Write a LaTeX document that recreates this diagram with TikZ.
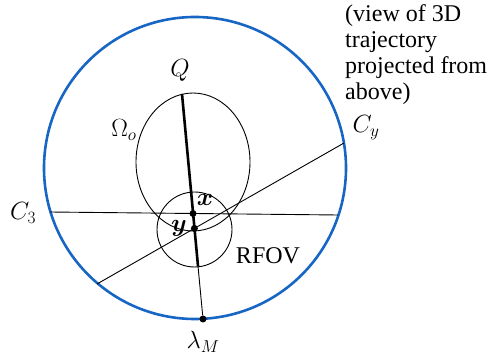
\documentclass[tikz,border=0pt]{standalone}
\usepackage{fontspec}
\usepackage{amsmath,bm}
\setmainfont{Liberation Serif}
\definecolor{ringblue}{RGB}{24,102,196}
\begin{document}
\begin{tikzpicture}[x=1pt,y=-1pt,
  thinline/.style={line width=0.9pt,black},
  thickline/.style={line width=2.6pt,black},
  ring/.style={line width=2.6pt,ringblue},
  dotmark/.style={circle,fill=black,inner sep=0pt,minimum size=7pt},
  lbl/.style={inner sep=0pt,font=\fontsize{24}{26}\selectfont}]
\useasboundingbox (0,0) rectangle (493,358);
% ring
\coordinate (O) at (195,168);
\draw[ring] (O) circle[radius=151];
% ellipse and RFOV circle
\draw[thinline] (193,162) ellipse[x radius=57, y radius=69];
\draw[thinline] (194.5,229.5) circle[radius=37.5];
% lines
\coordinate (c3a) at (50,212);
\coordinate (c3b) at (338,215);
\coordinate (cya) at (97,284);
\coordinate (cyb) at (344,143);
\coordinate (qtop) at (182,94);
\coordinate (thk) at (198,266);
\draw[thinline] (c3a) -- (c3b);
\draw[thinline] (cya) -- (cyb);
\node[dotmark] (lm) at (203,319) {};
\draw[thinline] (thk) -- (lm);
\draw[thickline] (qtop) -- (thk);
\node[dotmark] (xd) at (193,213.5) {};
\node[dotmark] (yd) at (194.4,228.4) {};
% labels
\node[lbl] (Q) at (180,70) {$Q$};
\node[lbl] (Om) at (124,130) {$\Omega_o$};
\node[lbl] (Cy) at (366,128) {$C_y$};
\node[lbl] (C3) at (23,213) {$C_3$};
\node[lbl] (xl) at (205,200) {$\bm{x}$};
\node[lbl] (yl) at (179,228) {$\bm{y}$};
\node[lbl] (rf) at (268,256) {RFOV};
\node[lbl] (lml) at (203,342) {$\lambda_M$};
\node[lbl,anchor=north west,align=left] (note) at (345,4) {(view of 3D\\trajectory\\projected from\\above)};
\end{tikzpicture}
\end{document}
